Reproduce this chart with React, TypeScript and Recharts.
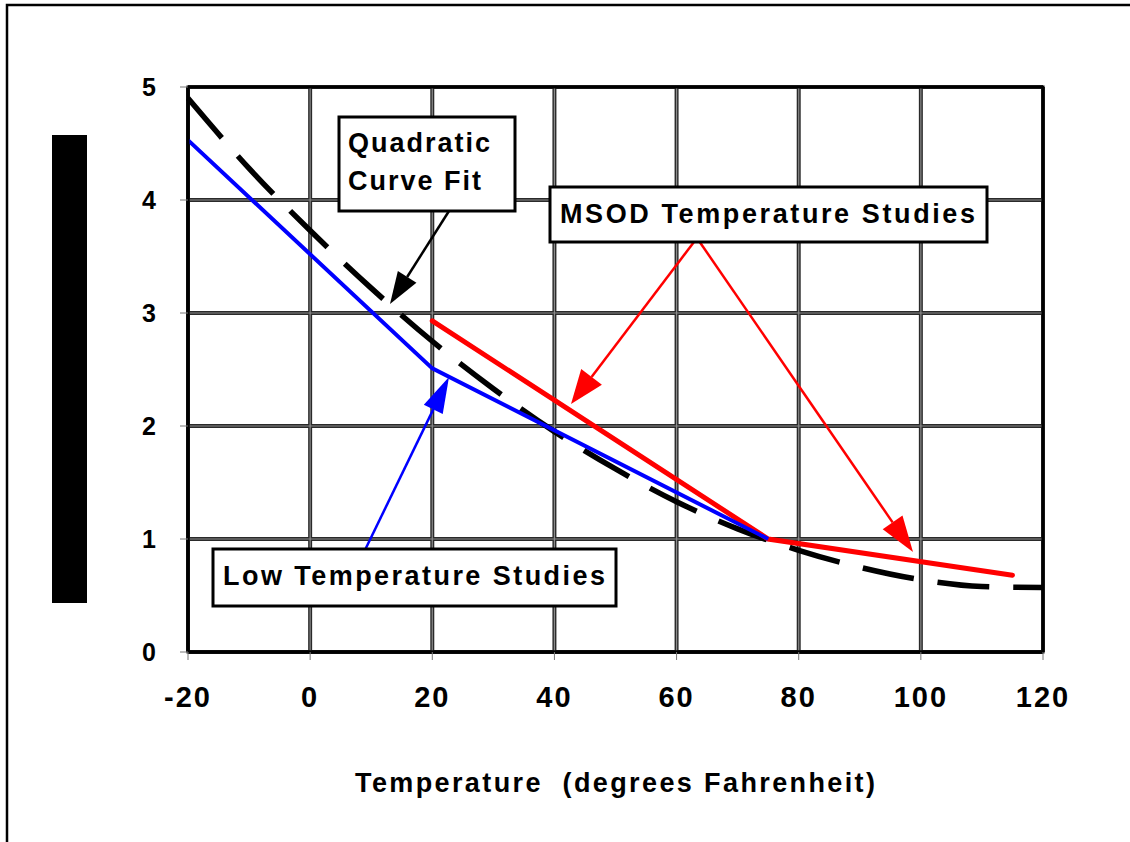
import React from "react";
import {
  LineChart,
  Line,
  XAxis,
  YAxis,
  CartesianGrid,
  ReferenceArea,
} from "recharts";

// Quadratic curve fit (dashed black), read every 10 degrees
const fitTemps = [-20, -10, 0, 10, 20, 30, 40, 50, 60, 70, 80, 90, 100, 110, 120];
const fitValues = [4.9, 4.28, 3.73, 3.22, 2.75, 2.33, 1.95, 1.62, 1.33, 1.09, 0.9, 0.75, 0.64, 0.58, 0.57];

// Low Temperature Studies (blue)
const lowTemps = [-20, 20, 75];
const lowValues = [4.53, 2.51, 1.0];

// MSOD Temperature Studies (red)
const msodTemps = [20, 75, 115];
const msodValues = [2.93, 1.0, 0.68];

const xTicks = [-20, 0, 20, 40, 60, 80, 100, 120];
const yTicks = [0, 1, 2, 3, 4, 5];

const FONT = '"Liberation Sans", Arial, Helvetica, sans-serif';

const toRows = (xs: number[], ys: number[]) => xs.map((t, i) => ({ t, v: ys[i] }));

const fitData = toRows(fitTemps, fitValues);
const lowData = toRows(lowTemps, lowValues);
const msodData = toRows(msodTemps, msodValues);

function XTick(props: any) {
  const { x, y, payload } = props;
  return (
    <text
      x={x}
      y={y + 47}
      textAnchor="middle"
      fontFamily={FONT}
      fontWeight="bold"
      fontSize={29}
      letterSpacing={2}
      fill="#000"
    >
      {payload.value}
    </text>
  );
}

function YTick(props: any) {
  const { x, y, payload } = props;
  return (
    <text
      x={x - 24}
      y={y + 9}
      textAnchor="end"
      fontFamily={FONT}
      fontWeight="bold"
      fontSize={25}
      fill="#000"
    >
      {payload.value}
    </text>
  );
}

function Arrow({
  from,
  to,
  color,
  width,
  headLen,
  headW,
}: {
  from: [number, number];
  to: [number, number];
  color: string;
  width: number;
  headLen: number;
  headW: number;
}) {
  const dx = to[0] - from[0];
  const dy = to[1] - from[1];
  const len = Math.sqrt(dx * dx + dy * dy);
  const ux = dx / len;
  const uy = dy / len;
  const bx = to[0] - ux * headLen;
  const by = to[1] - uy * headLen;
  const px = -uy * (headW / 2);
  const py = ux * (headW / 2);
  return (
    <g>
      <line x1={from[0]} y1={from[1]} x2={bx} y2={by} stroke={color} strokeWidth={width} />
      <polygon
        points={`${to[0]},${to[1]} ${bx + px},${by + py} ${bx - px},${by - py}`}
        fill={color}
      />
    </g>
  );
}

function Box({
  x,
  y,
  w,
  h,
  lines,
}: {
  x: number;
  y: number;
  w: number;
  h: number;
  lines: { text: string; x: number; y: number; len: number }[];
}) {
  return (
    <g>
      <rect x={x} y={y} width={w} height={h} fill="#fff" stroke="#000" strokeWidth={3} />
      {lines.map((l) => (
        <text
          key={l.text}
          x={l.x}
          y={l.y}
          fontFamily={FONT}
          fontWeight="bold"
          fontSize={27}
          textLength={l.len}
          lengthAdjust="spacing"
          fill="#000"
        >
          {l.text}
        </text>
      ))}
    </g>
  );
}

export default function App() {
  return (
    <div
      style={{
        position: "absolute",
        left: 0,
        top: 0,
        width: 1130,
        height: 842,
        background: "#fff",
      }}
    >
      <LineChart
        width={1130}
        height={842}
        margin={{ top: 87, right: 87, bottom: 160, left: 128 }}
      >
        <CartesianGrid stroke="#2a2a2a" strokeWidth={4} />
        <CartesianGrid stroke="#8a8a8a" strokeWidth={1.2} />
        <XAxis
          type="number"
          dataKey="t"
          domain={[-20, 120]}
          ticks={xTicks}
          height={30}
          tickSize={8}
          tickMargin={0}
          axisLine={{ stroke: "#000", strokeWidth: 3 }}
          tickLine={{ stroke: "#777", strokeWidth: 1 }}
          tick={<XTick />}
          allowDuplicatedCategory={false}
        />
        <YAxis
          type="number"
          domain={[0, 5]}
          ticks={yTicks}
          width={60}
          tickSize={8}
          tickMargin={0}
          axisLine={{ stroke: "#000", strokeWidth: 3 }}
          tickLine={{ stroke: "#777", strokeWidth: 1 }}
          tick={<YTick />}
        />
        <ReferenceArea
          x1={-20}
          x2={120}
          y1={0}
          y2={5}
          fill="none"
          fillOpacity={0}
          stroke="#000"
          strokeWidth={3}
        />
        <Line
          data={fitData}
          dataKey="v"
          type="monotone"
          stroke="#000"
          strokeWidth={5.5}
          strokeDasharray="52 24"
          dot={false}
          isAnimationActive={false}
        />
        <Line
          data={msodData}
          dataKey="v"
          type="linear"
          stroke="#ff0000"
          strokeWidth={5}
          strokeLinecap="round"
          dot={false}
          isAnimationActive={false}
        />
        <Line
          data={lowData}
          dataKey="v"
          type="linear"
          stroke="#0000ff"
          strokeWidth={4}
          dot={false}
          isAnimationActive={false}
        />
      </LineChart>

      <svg
        width={1130}
        height={842}
        style={{ position: "absolute", left: 0, top: 0, pointerEvents: "none" }}
      >
        {/* outer frame */}
        <path d="M7,842 L7,5 L1130,5" fill="none" stroke="#000" strokeWidth={2.5} />

        {/* y-axis title rendered as solid block */}
        <rect x={52} y={135} width={35} height={468} fill="#000" />

        {/* arrows */}
        <Arrow from={[449, 211]} to={[390, 304]} color="#000" width={2.5} headLen={32} headW={22} />
        <Arrow from={[697, 238]} to={[571, 404]} color="#ff0000" width={2.5} headLen={34} headW={26} />
        <Arrow from={[697, 238]} to={[913, 552]} color="#ff0000" width={2.5} headLen={36} headW={24} />
        <Arrow from={[365, 550]} to={[449, 377]} color="#0000ff" width={2.5} headLen={36} headW={21} />

        <Box
          x={339}
          y={117}
          w={176}
          h={94}
          lines={[
            { text: "Quadratic", x: 348, y: 152, len: 142 },
            { text: "Curve Fit", x: 348, y: 190, len: 133 },
          ]}
        />
        <Box
          x={550}
          y={187}
          w={437}
          h={55}
          lines={[{ text: "MSOD Temperature Studies", x: 560, y: 223, len: 415 }]}
        />
        <Box
          x={213}
          y={549}
          w={403}
          h={57}
          lines={[{ text: "Low Temperature Studies", x: 223, y: 585, len: 382 }]}
        />

        {/* x-axis title */}
        <text
          x={355}
          y={792}
          fontFamily={FONT}
          fontWeight="bold"
          fontSize={27}
          textLength={520}
          lengthAdjust="spacing"
          fill="#000"
          style={{ whiteSpace: "pre" }}
        >
          {"Temperature  (degrees Fahrenheit)"}
        </text>
      </svg>
    </div>
  );
}
